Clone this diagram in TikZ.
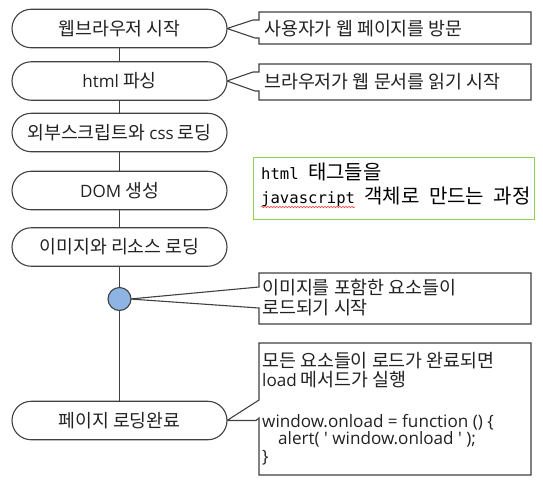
\documentclass[tikz,border=0pt]{standalone}
\usepackage{fontspec}
\setmainfont{Noto Sans CJK KR}
\newfontfamily\lat{Open Sans}[Scale=0.93]
\newfontfamily\gmono{DejaVu Sans Mono}
\usetikzlibrary{decorations.pathmorphing}
\definecolor{ink}{HTML}{222222}
\definecolor{edgec}{HTML}{404040}
\definecolor{dotblue}{HTML}{8EB4E3}
\definecolor{boxgreen}{HTML}{92D050}
\newcommand{\msp}{{\gmono\fontsize{15.6}{20}\selectfont\ }}
\begin{document}
\begin{tikzpicture}[x=1pt,y=-1pt,
  stadium/.style={draw=edgec, line width=1.1pt, fill=white, rounded corners=19.25pt,
    minimum width=215pt, minimum height=38.5pt, inner sep=0pt,
    font=\fontsize{18.3}{21}\selectfont, text=ink},
  dotnode/.style={circle, draw=edgec, line width=1.1pt, fill=dotblue, minimum size=23pt, inner sep=0pt},
  conn/.style={draw=edgec, line width=1.1pt},
  callout/.style={draw=edgec, line width=1.1pt, fill=white, line join=miter},
  ctext/.style={anchor=base west, inner sep=0pt, text=ink, font=\fontsize{18.4}{21}\selectfont},
  mtext/.style={anchor=base west, inner sep=0pt, text=black, font=\fontsize{20}{24}\selectfont}
]
\useasboundingbox (0,0) rectangle (543,485);

% callouts (drawn first)
\draw[callout] (227,28.5) coordinate (p1) -- (253,20) -- (259,20) -- (259,12) -- (531,12) -- (531,44) -- (259,44) -- (259,38) -- (255,38) -- cycle;
\draw[callout] (227,81) coordinate (p2) -- (253,72) -- (259,72) -- (259,64) -- (531,64) -- (531,100) -- (259,100) -- (259,91) -- (255,91) -- cycle;
\draw[callout] (130,299) coordinate (p3) -- (259,287) -- (259,273) -- (531,273) -- (531,324) -- (259,324) -- (259,308) -- cycle;
\draw[callout] (227,420.5) coordinate (p4) -- (259,400) -- (259,343) -- (531,343) -- (531,475) -- (259,475) -- (259,418) -- (256,420.5) -- cycle;

% flow nodes
\node[stadium] (s1) at (119.5,28.5) {웹브라우저 시작};
\node[stadium] (s2) at (119.5,81) {{\lat html} 파싱};
\node[stadium] (s3) at (119.5,132.5) {외부스크립트와 {\lat css} 로딩};
\node[stadium] (s4) at (119.5,190.5) {{\lat DOM} 생성};
\node[stadium] (s5) at (119.5,247) {이미지와 리소스 로딩};
\node[dotnode] (c) at (119.5,299) {};
\node[stadium] (s6) at (119.5,420.5) {페이지 로딩완료};

\draw[conn] (s1.south) -- (s2.north);
\draw[conn] (s2.south) -- (s3.north);
\draw[conn] (s3.south) -- (s4.north);
\draw[conn] (s4.south) -- (s5.north);
\draw[conn] (s5.south) -- (c.north);
\draw[conn] (c.south) -- (s6.north);

% callout texts
\node[ctext] (t1) at (264,35.5) {사용자가 웹 페이지를 방문};
\node[ctext] (t2) at (264,88) {브라우저가 웹 문서를 읽기 시작};
\node[ctext] (t3a) at (262,294) {이미지를 포함한 요소들이};
\node[ctext] (t3b) at (262,314) {로드되기 시작};
\node[ctext] (t4a) at (262,367.5) {모든 요소들이 로드가 완료되면};
\node[ctext] (t4b) at (262,386.5) {{\lat load} 메서드가 실행};
\node[ctext] (t4c) at (262,427) {\lat window.onload = function () \{};
\node[ctext] (t4d) at (278,444.5) {\lat alert( ' window.onload ' );};
\node[ctext] (t4e) at (262,462) {\lat \}};

% green note
\node[draw=boxgreen, line width=1pt, minimum width=281pt, minimum height=62pt, inner sep=0pt] (g) at (393.5,188) {};
\node[mtext] (g1) at (261,179.5) {{\gmono\fontsize{15.6}{20}\selectfont html}\msp 태그들을};
\node[mtext] (g2) at (261,203.5) {{\gmono\fontsize{15.6}{20}\selectfont javascript}\msp 객체로\msp 만드는\msp 과정};
\draw[red!75, line width=0.6pt, decorate, decoration={snake, amplitude=0.8pt, segment length=3pt}] (261,207) -- (355,207);
\end{tikzpicture}
\end{document}
